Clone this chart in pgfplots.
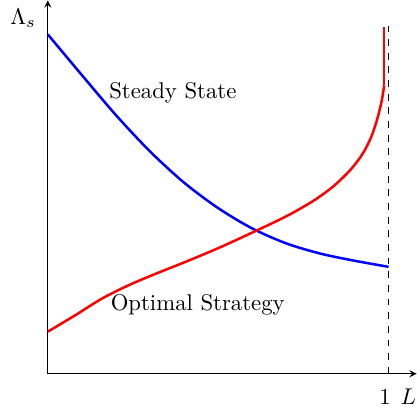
\documentclass[border=0pt]{standalone}
\usepackage{pgfplots}
\pgfplotsset{compat=1.18}

\begin{document}
\begin{tikzpicture}
  \begin{axis}[
      scale only axis,
      width=162pt,
      height=164pt,
      axis lines=left,
      xmin=0, xmax=1.082,
      ymin=0, ymax=1.1,
      xtick={1},
      xticklabel style={xshift=-1.5pt, yshift=-3.5pt},
      ytick=\empty,
      major tick length=0pt,
      clip=false,
    ]
    % steady state
    \addplot[blue, line width=1.1pt, smooth] coordinates {
      (0,1.0) (0.1,0.88) (0.2,0.762) (0.3,0.655) (0.4,0.563)
      (0.5,0.488) (0.6,0.428) (0.7,0.384) (0.8,0.354)
      (0.9,0.333) (1.0,0.315)
    };
    % optimal strategy
    \addplot[red, line width=1.1pt, smooth] coordinates {
      (0,0.124) (0.08,0.172) (0.16,0.222) (0.24,0.262) (0.32,0.296)
      (0.4,0.328) (0.5,0.370) (0.6,0.416) (0.7,0.464) (0.78,0.510)
      (0.84,0.554) (0.89,0.603) (0.925,0.650) (0.95,0.700)
      (0.968,0.755) (0.98,0.805) (0.987,0.850)
    };
    \addplot[red, line width=1.1pt] coordinates {(0.987,0.850) (0.987,1.021)};
    \addplot[black, dashed, thin] coordinates {(1,0) (1,1.026)};
    \node at (axis cs:0.367,0.829) {Steady State};
    \node at (axis cs:0.44,0.203) {Optimal Strategy};
    \node[anchor=north east, inner sep=0pt, xshift=-5pt, yshift=-3.5pt]
      at (rel axis cs:0,1) {$\Lambda_s$};
    \node[anchor=north east, inner sep=0pt, yshift=-6.5pt]
      at (rel axis cs:1,0) {$L$};
    \path (rel axis cs:0,0) ++(-21pt,-15pt);
  \end{axis}
\end{tikzpicture}
\end{document}
